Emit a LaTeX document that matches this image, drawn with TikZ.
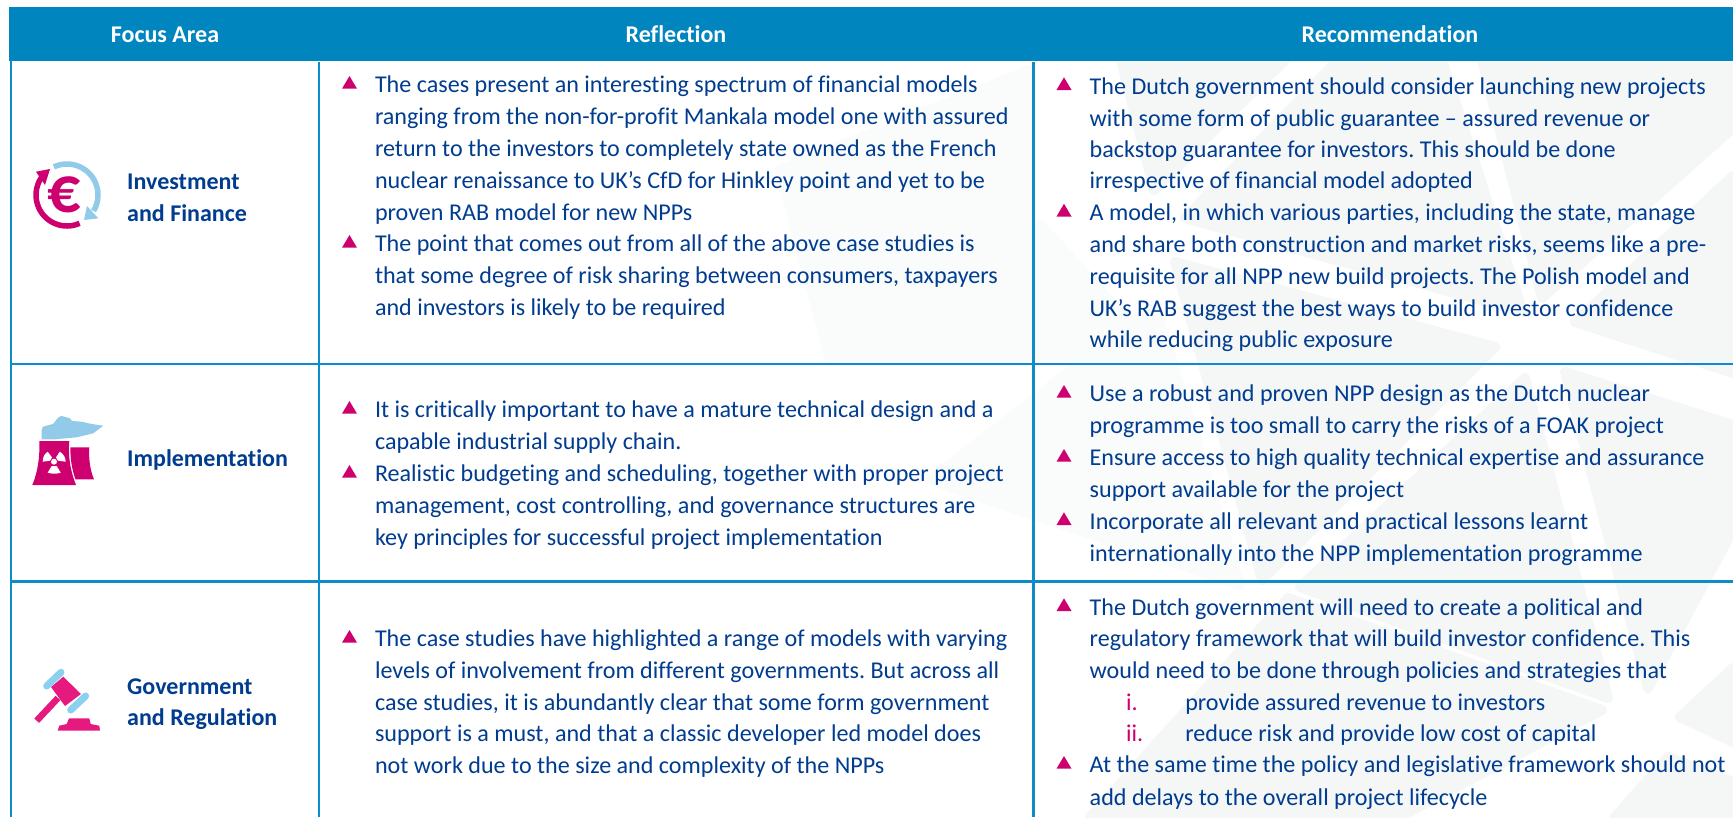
\documentclass[tikz,border=0pt]{standalone}
\usepackage{fontspec}
\setmainfont{Carlito}[Ligatures=NoCommon]
\AtBeginDocument{\frenchspacing}
\definecolor{hdr}{HTML}{0085BF}
\definecolor{rule}{HTML}{0C8DC9}
\definecolor{navy}{HTML}{003C8F}
\definecolor{mag}{HTML}{CE0070}
\definecolor{pinkg}{HTML}{E6197F}
\definecolor{sky}{HTML}{92CBEA}
\definecolor{skyb}{HTML}{8AD0F0}
\definecolor{faint}{HTML}{F5F7F7}
\definecolor{fainter}{HTML}{FAFBFB}
\tikzset{
  x=1pt,y=-1pt,
  txt/.style={anchor=base west,text=navy,font=\fontsize{24.1}{24.1}\selectfont,inner sep=0pt,outer sep=0pt},
  headt/.style={anchor=base,text=white,font=\fontsize{24}{24}\selectfont\bfseries,inner sep=0pt},
  areat/.style={anchor=base west,text=navy,font=\fontsize{24}{24}\selectfont\bfseries,inner sep=0pt},
  numt/.style={anchor=base west,text=mag,font=\fontsize{24.1}{24.1}\selectfont,inner sep=0pt},
  tabline/.style={draw=rule,line width=2.8pt},
  bg/.style={fill=faint,draw=faint,line width=10pt,line join=round},
  bgl/.style={fill=fainter,draw=fainter,line width=10pt,line join=round},
  bul/.style={fill=mag},
}
\newcommand{\bull}[2]{\fill[bul] (#1,#2-16.7) -- (#1+7.5,#2-4) -- (#1-7.5,#2-4) -- cycle;}
\begin{document}
\begin{tikzpicture}
\useasboundingbox (0,0) rectangle (1733,817);
\fill[white] (0,0) rectangle (1733,817);
% faint background
\fill[bgl] (780,170) -- (1030,70) -- (1030,360) -- (830,360) -- cycle;
\fill[bgl] (1040,224) -- (1160,356) -- (1040,356) -- cycle;
\fill[bgl] (930,480) -- (1155,305) -- (1240,585) -- cycle;
\fill[bg] (1121,60) -- (1285,60) -- (1154,190) -- cycle;
\fill[bg] (1338,60) -- (1442,60) -- (1523,312) -- (1185,218) -- cycle;
\fill[bg] (1482,60) -- (1733,60) -- (1733,128) -- (1542,298) -- cycle;
\fill[bg] (1575,322) -- (1733,176) -- (1733,373) -- cycle;
\fill[bg] (1175,262) -- (1495,347) -- (1262,580) -- cycle;
\fill[bg] (1565,372) -- (1733,425) -- (1733,530) -- (1648,688) -- cycle;
\fill[bg] (1525,378) -- (1300,587) -- (1608,698) -- cycle;
\fill[bg] (1288,598) -- (1602,710) -- (1400,817) -- (1090,817) -- cycle;
\fill[bg] (1680,717) -- (1733,668) -- (1733,742) -- cycle;
\fill[bg] (1668,757) -- (1733,782) -- (1733,817) -- (1615,817) -- cycle;
% header
\fill[hdr] (9,7) rectangle (1733,61);
\node[headt] (h1) at (165,42.5) {Focus Area};
\node[headt] (h2) at (676,42.5) {Reflection};
\node[headt] (h3) at (1390,42.5) {Recommendation};
% table lines
\draw[tabline] (11,60) -- (11,817);
\draw[tabline] (319,60) -- (319,817);
\draw[tabline] (1033.5,60) -- (1033.5,817);
\draw[tabline] (9.6,364) -- (1733,364);
\draw[tabline] (9.6,581.5) -- (1733,581.5);
\draw[white,line width=0.8pt] (12.5,61.4) -- (1733,61.4);
% row labels
\node[areat] (a1a) at (127,189.5) {Investment};
\node[areat] (a1b) at (127,221) {and Finance};
\node[areat] (a2) at (127,466) {Implementation};
\node[areat] (a3a) at (127,694) {Government};
\node[areat] (a3b) at (127,725.7) {and Regulation};
% icon 1
\draw[mag,line width=5.5pt] (67,195) ++(66:31) arc (66:215:31);
\fill[mag] (50,169) -- (36,171.7) -- (45,185) -- cycle;
\draw[sky,line width=5.5pt] (67,195) ++(245:31) arc (245:391:31);
\fill[sky] (84,220) -- (98.3,218.3) -- (87,206) -- cycle;
\node[anchor=center,text=mag,inner sep=0pt,font=\fontsize{66}{66}\selectfont\bfseries] (eur) at (64.5,195) {€};
% icon 2
\fill[sky] (41.7,439.3) -- (41.7,430) .. controls (42,427) and (43,426.5) .. (45,426) -- (53,424) .. controls (56,421) and (58,416) .. (61.7,416) -- (70,418.3) -- (72,421) -- (81.7,421.7) -- (91.7,424) -- (103.3,425.7) -- (93.3,433.3) -- (76.7,437.3) -- (55,439.3) -- cycle;
\fill[mag] (39.3,441) -- (69.3,441) .. controls (68,455) and (70,470) .. (76,485) -- (32.3,485) .. controls (38,472) and (40,455) .. (39.3,441) -- cycle;
\fill[mag] (70.5,447.3) -- (89.3,447.3) .. controls (88.5,458) and (90,470) .. (94,479.3) -- (75.5,479.3) .. controls (72,470) and (70,458) .. (70.5,447.3) -- cycle;
\fill[white] (54,461.7) circle (3);
\fill[white] (47.7,451.7) .. controls (44,454) and (42.7,458) .. (42.7,461.7) -- (50,460.7) -- (52,457.5) -- cycle;
\fill[white] (59.7,451.7) .. controls (64,454) and (65.5,458) .. (65.7,461.7) -- (58,460.7) -- (56,457.5) -- cycle;
\fill[white] (47.7,472.7) .. controls (52,474) and (57,474) .. (60.7,472.7) -- (56.7,466) -- (51.7,466) -- cycle;
% icon 3
\fill[pinkg] (63.3,676.7) -- (81,694) -- (65,706) -- (51,687) -- cycle;
\draw[pinkg,line width=6.5pt] (58,698) -- (36.7,720.7);
\draw[skyb,line width=7pt,line cap=round] (46.7,686) -- (61,672.3);
\draw[skyb,line width=7pt,line cap=round] (70.7,710) -- (85.7,696);
\fill[pinkg] (57.7,730.7) -- (100,730.7) -- (99.3,725.7) -- (90.7,724) -- (89.3,718.3) -- (69,718.3) -- (66.7,724) -- (59.3,725.7) -- cycle;
% middle column
\bull{349.5}{92.7}
\node[txt] (m1) at (375,92.7) {The cases present an interesting spectrum of financial models};
\node[txt] (m2) at (375,124.7) {ranging from the non-for-profit Mankala model one with assured};
\node[txt] (m3) at (375,156.7) {return to the investors to completely state owned as the French};
\node[txt] (m4) at (375,188.3) {nuclear renaissance to UK’s CfD for Hinkley point and yet to be};
\node[txt] (m5) at (375,220) {proven RAB model for new NPPs};
\bull{349.5}{251.7}
\node[txt] (m6) at (375,251.7) {The point that comes out from all of the above case studies is};
\node[txt] (m7) at (375,283.3) {that some degree of risk sharing between consumers, taxpayers};
\node[txt] (m8) at (375,315) {and investors is likely to be required};
\bull{349.5}{417.7}
\node[txt] (m9) at (375,417.7) {It is critically important to have a mature technical design and a};
\node[txt] (m10) at (375,449.7) {capable industrial supply chain.};
\bull{349.5}{481.7}
\node[txt] (m11) at (375,481.7) {Realistic budgeting and scheduling, together with proper project};
\node[txt] (m12) at (375,513.3) {management, cost controlling, and governance structures are};
\node[txt] (m13) at (375,545) {key principles for successful project implementation};
\bull{349.5}{646.7}
\node[txt] (m14) at (375,646.7) {The case studies have highlighted a range of models with varying};
\node[txt] (m15) at (375,678.3) {levels of involvement from different governments. But across all};
\node[txt] (m16) at (375,710) {case studies, it is abundantly clear that some form government};
\node[txt] (m17) at (375,741.7) {support is a must, and that a classic developer led model does};
\node[txt] (m18) at (375,773.3) {not work due to the size and complexity of the NPPs};
% right column
\bull{1064}{94}
\node[txt] (r1) at (1089.7,94) {The Dutch government should consider launching new projects};
\node[txt] (r2) at (1089.7,126) {with some form of public guarantee – assured revenue or};
\node[txt] (r3) at (1089.7,157) {backstop guarantee for investors. This should be done};
\node[txt] (r4) at (1089.7,188.5) {irrespective of financial model adopted};
\bull{1064}{220.5}
\node[txt] (r5) at (1089.7,220.5) {A model, in which various parties, including the state, manage};
\node[txt] (r6) at (1089.7,252.3) {and share both construction and market risks, seems like a pre-};
\node[txt] (r7) at (1089.7,284) {requisite for all NPP new build projects. The Polish model and};
\node[txt] (r8) at (1089.7,316) {UK’s RAB suggest the best ways to build investor confidence};
\node[txt] (r9) at (1089.7,347.3) {while reducing public exposure};
\bull{1064}{401.7}
\node[txt] (r10) at (1089.7,401.7) {Use a robust and proven NPP design as the Dutch nuclear};
\node[txt] (r11) at (1089.7,433.3) {programme is too small to carry the risks of a FOAK project};
\bull{1064}{465.7}
\node[txt] (r12) at (1089.7,465.7) {Ensure access to high quality technical expertise and assurance};
\node[txt] (r13) at (1089.7,497.3) {support available for the project};
\bull{1064}{529}
\node[txt] (r14) at (1089.7,529) {Incorporate all relevant and practical lessons learnt};
\node[txt] (r15) at (1089.7,561) {internationally into the NPP implementation programme};
\bull{1064}{615}
\node[txt] (r16) at (1089.7,615) {The Dutch government will need to create a political and};
\node[txt] (r17) at (1089.7,646.7) {regulatory framework that will build investor confidence. This};
\node[txt] (r18) at (1089.7,678.3) {would need to be done through policies and strategies that};
\node[numt] (n1) at (1125.8,710) {i.};
\node[txt] (r19) at (1185.3,710) {provide assured revenue to investors};
\node[numt] (n2) at (1125.8,741.7) {ii.};
\node[txt] (r20) at (1185.3,741.7) {reduce risk and provide low cost of capital};
\bull{1064}{772.7}
\node[txt] (r21) at (1089.7,772.7) {At the same time the policy and legislative framework should not};
\node[txt] (r22) at (1089.7,805) {add delays to the overall project lifecycle};
\end{tikzpicture}
\end{document}
